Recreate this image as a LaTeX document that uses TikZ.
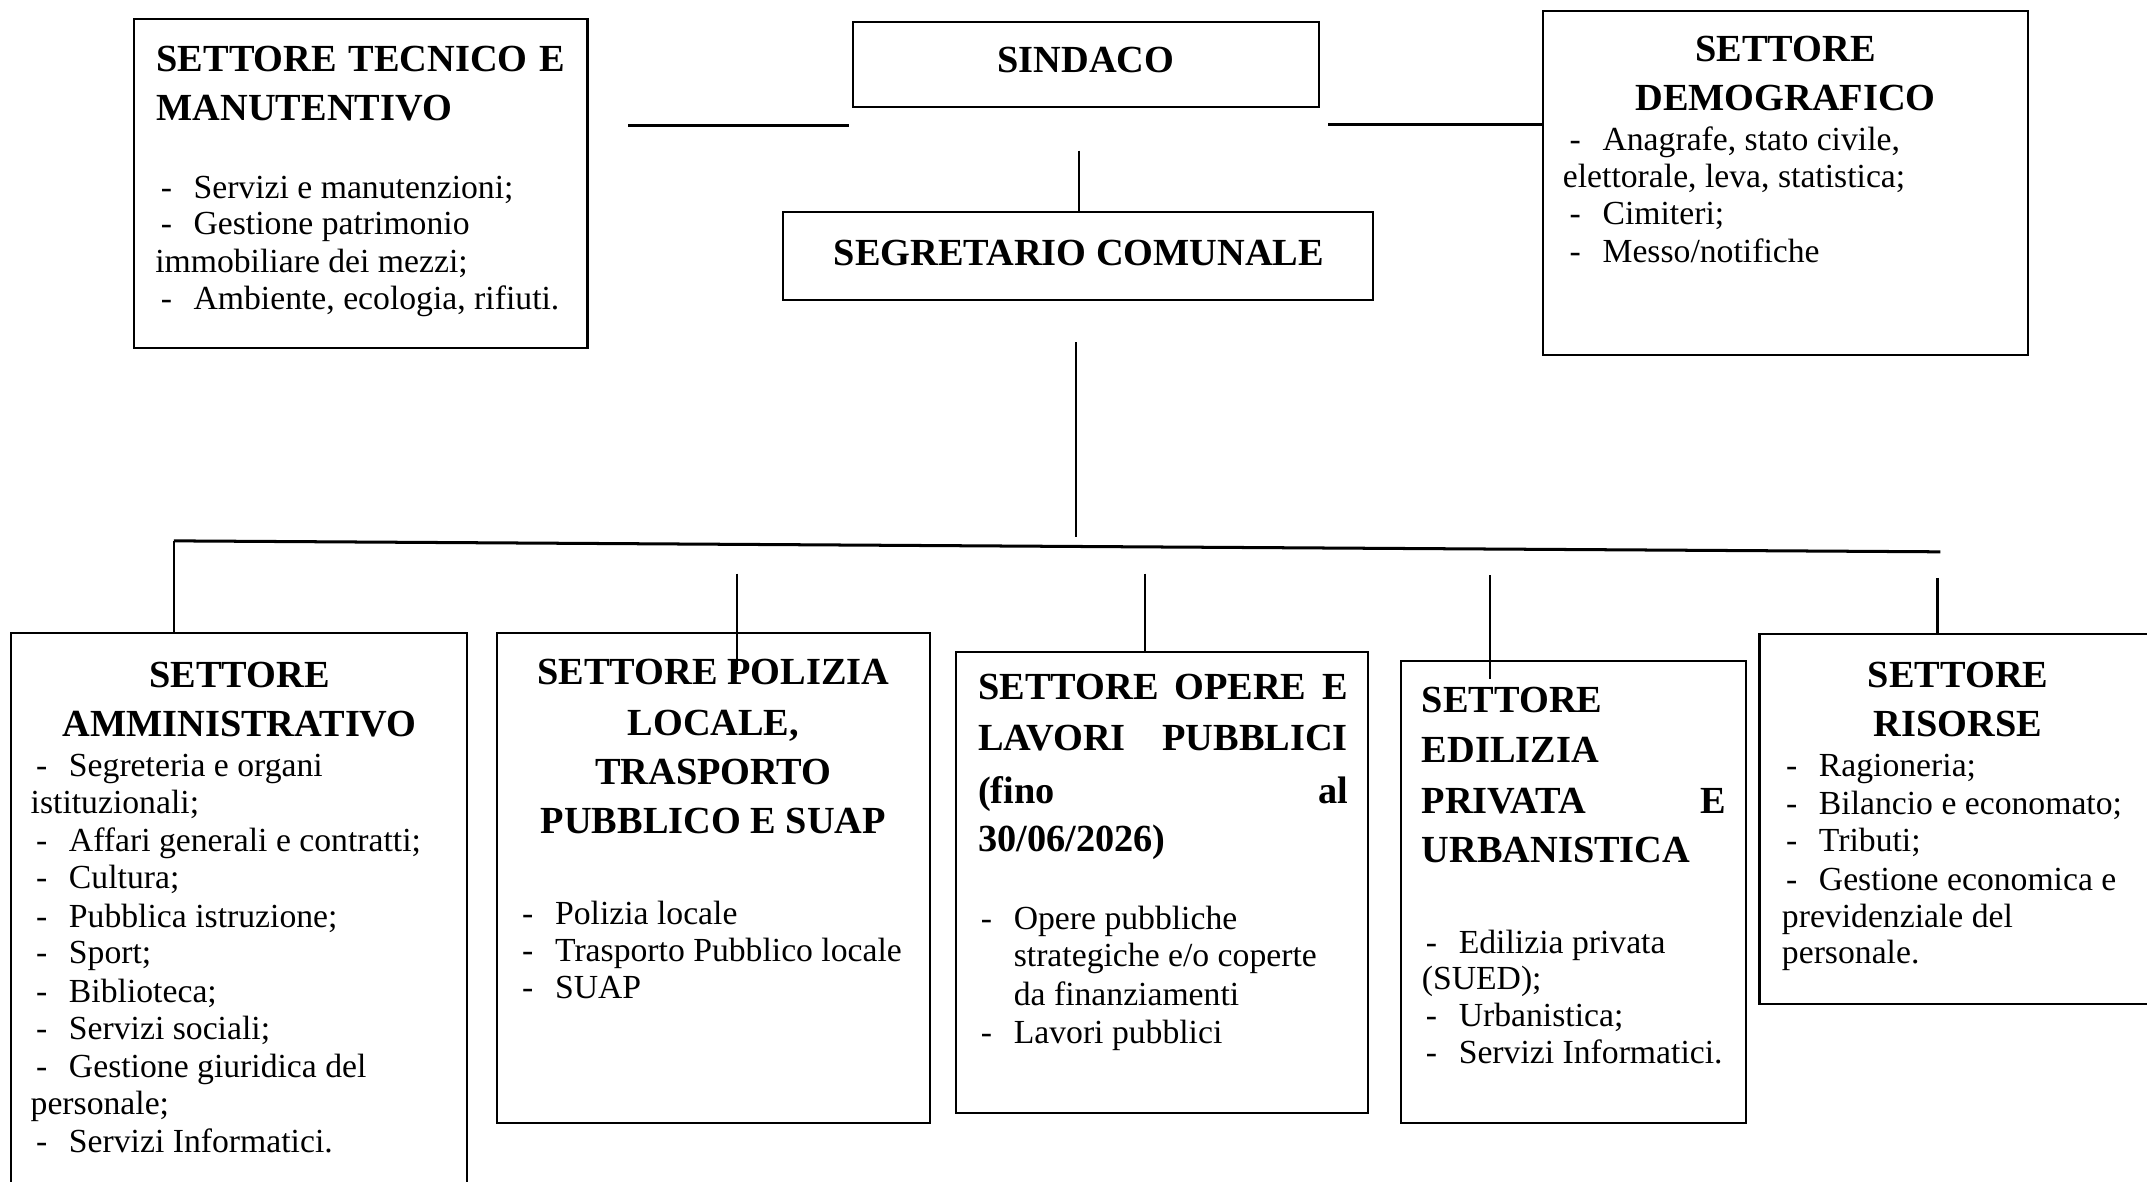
\documentclass[tikz,border=0pt]{standalone}
\usepackage{fontspec}
\setmainfont{Liberation Serif}
\usetikzlibrary{fit}
\tikzset{
 box/.style={draw, line width=0.8pt, inner sep=0pt},
 conn/.style={line width=0.8pt},
 bus/.style={line width=1.1pt},
 hd/.style={font=\fontsize{14}{17}\selectfont\bfseries, inner sep=0pt, anchor=base},
 hdl/.style={hd, anchor=base west},
 bd/.style={font=\fontsize{12.3}{14}\selectfont, inner sep=0pt, anchor=base west},
}
\newcommand\dsh{\makebox[12pt][l]{-}}
\newcommand\jst[2]{\makebox[#1][s]{#2}}
\begin{document}
\begin{tikzpicture}[x=0.5pt,y=-0.5pt]
\fill[white] (0,0) rectangle (1568,863);
\useasboundingbox (0,0) rectangle (1568,863);

% ---------- boxes ----------
\node[box, fit={(98,14) (429,254)}] (tec) {};
\node[box, fit={(623,16) (963,78)}] (sin) {};
\node[box, fit={(572,155) (1003,219)}] (seg) {};
\node[box, fit={(1127,8) (1481,259)}] (dem) {};
\node[box, fit={(8,462) (341,880)}] (amm) {};
\node[box, fit={(363,462) (679,820)}] (pol) {};
\node[box, fit={(698,476) (999,813)}] (ope) {};
\node[box, fit={(1023,483) (1275,820)}] (edi) {};
\node[box, fit={(1285,463) (1590,733)}] (ris) {};

% ---------- connectors ----------
\coordinate (l1a) at (459,92);
\coordinate (l1b) at (620,92);
\draw[bus] (l1a) -- (l1b);
\coordinate (r1a) at (970,91);
\draw[bus] (r1a) -- (r1a -| dem.west);
\coordinate (v1a) at (788,110);
\draw[conn] (v1a) -- (v1a |- seg.north);
\coordinate (v2a) at (786,250);
\coordinate (v2b) at (786,392);
\draw[conn] (v2a) -- (v2b);
\coordinate (busL) at (127,395);
\coordinate (busR) at (1417,403);
\draw[bus] (busL) -- (busR);
\draw[conn] (busL) -- (busL |- amm.north);
\coordinate (p1) at (538,419);
\coordinate (p2) at (538,490);
\draw[conn] (p1) -- (p2);
\coordinate (o1) at (836,419);
\draw[conn] (o1) -- (o1 |- ope.north);
\coordinate (e1) at (1088,420);
\coordinate (e2) at (1088,496);
\draw[conn] (e1) -- (e2);
\coordinate (r1) at (1415,422);
\draw[conn] (r1) -- (r1 |- ris.north);

% ---------- top ----------
\node[hdl] (tecH1) at (114,52) {\jst{149pt}{SETTORE TECNICO E}};
\node[hdl] (tecH2) at (114,88) {MANUTENTIVO};
\node[bd] (tecB1) at (117,145) {\dsh Servizi e manutenzioni;};
\node[bd] (tecB2) at (117,171) {\dsh Gestione patrimonio};
\node[bd] (tecB3) at (113,199) {immobiliare dei mezzi;};
\node[bd] (tecB4) at (117,226) {\dsh Ambiente, ecologia, rifiuti.};

\node[hd] (sinT) at (793,53) {SINDACO};
\node[hd] (segT) at (788,194) {SEGRETARIO COMUNALE};

\node[hd] (demH1) at (1304,45) {SETTORE};
\node[hd] (demH2) at (1304,81) {DEMOGRAFICO};
\node[bd] (demB1) at (1146,110) {\dsh Anagrafe, stato civile,};
\node[bd] (demB2) at (1141,137) {elettorale, leva, statistica;};
\node[bd] (demB3) at (1146,164) {\dsh Cimiteri;};
\node[bd] (demB4) at (1146,192) {\dsh Messo/notifiche};

% ---------- amministrativo ----------
\node[hd] (ammH1) at (175,502) {SETTORE};
\node[hd] (ammH2) at (175,538) {AMMINISTRATIVO};
\node[bd] (ammB1) at (26,567) {\dsh Segreteria e organi};
\node[bd] (ammB2) at (22,594) {istituzionali;};
\node[bd] (ammB3) at (26,622) {\dsh Affari generali e contratti;};
\node[bd] (ammB4) at (26,649) {\dsh Cultura;};
\node[bd] (ammB5) at (26,677) {\dsh Pubblica istruzione;};
\node[bd] (ammB6) at (26,704) {\dsh Sport;};
\node[bd] (ammB7) at (26,732) {\dsh Biblioteca;};
\node[bd] (ammB8) at (26,759) {\dsh Servizi sociali;};
\node[bd] (ammB9) at (26,787) {\dsh Gestione giuridica del};
\node[bd] (ammB10) at (22,814) {personale;};
\node[bd] (ammB11) at (26,842) {\dsh Servizi Informatici.};

% ---------- polizia ----------
\node[hd] (polH1) at (521,500) {SETTORE POLIZIA};
\node[hd] (polH2) at (521,537) {LOCALE,};
\node[hd] (polH3) at (521,573) {TRASPORTO};
\node[hd] (polH4) at (521,609) {PUBBLICO E SUAP};
\node[bd] (polB1) at (381,675) {\dsh Polizia locale};
\node[bd] (polB2) at (381,702) {\dsh Trasporto Pubblico locale};
\node[bd] (polB3) at (381,729) {\dsh SUAP};

% ---------- opere ----------
\node[hdl] (opeH1) at (714,511) {\jst{135pt}{SETTORE OPERE E}};
\node[hdl] (opeH2) at (714,548) {\jst{135pt}{LAVORI PUBBLICI}};
\node[hdl] (opeH3) at (714,587) {\jst{135pt}{(fino\hfill al}};
\node[hdl] (opeH4) at (714,622) {30/06/2026)};
\node[bd] (opeB1) at (716,679) {\dsh Opere pubbliche};
\node[bd] (opeB2) at (740,706) {strategiche e/o coperte};
\node[bd] (opeB3) at (740,734) {da finanziamenti};
\node[bd] (opeB4) at (716,762) {\dsh Lavori pubblici};

% ---------- edilizia ----------
\node[hdl] (ediH1) at (1038,520) {SETTORE};
\node[hdl] (ediH2) at (1038,557) {EDILIZIA};
\node[hdl] (ediH3) at (1038,594) {\jst{111pt}{PRIVATA\hfill E}};
\node[hdl] (ediH4) at (1038,630) {URBANISTICA};
\node[bd] (ediB1) at (1041,696) {\dsh Edilizia privata};
\node[bd] (ediB2) at (1038,723) {(SUED);};
\node[bd] (ediB3) at (1041,750) {\dsh Urbanistica;};
\node[bd] (ediB4) at (1041,777) {\dsh Servizi Informatici.};

% ---------- risorse ----------
\node[hd] (risH1) at (1430,502) {SETTORE};
\node[hd] (risH2) at (1430,538) {RISORSE};
\node[bd] (risB1) at (1304,567) {\dsh Ragioneria;};
\node[bd] (risB2) at (1304,595) {\dsh Bilancio e economato;};
\node[bd] (risB3) at (1304,622) {\dsh Tributi;};
\node[bd] (risB4) at (1304,650) {\dsh Gestione economica e};
\node[bd] (risB5) at (1301,677) {previdenziale del};
\node[bd] (risB6) at (1301,704) {personale.};
\end{tikzpicture}
\end{document}
